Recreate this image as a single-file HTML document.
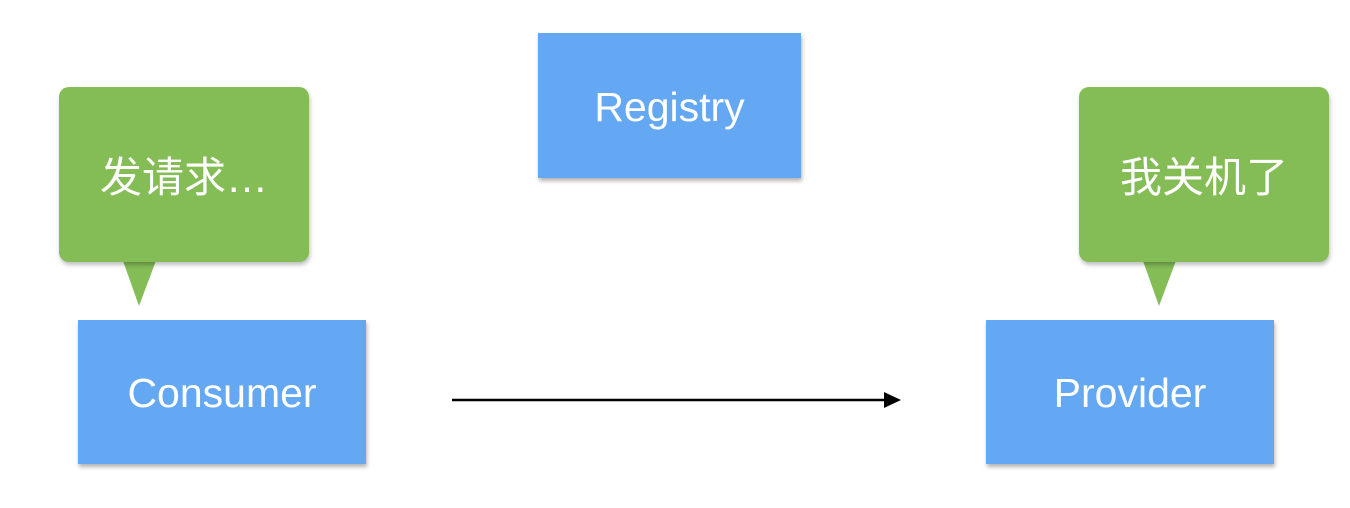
<!DOCTYPE html>
<html><head><meta charset="utf-8"><style>
body{margin:0;width:1350px;height:508px;background:#fff;position:relative;overflow:hidden;font-family:"Liberation Sans","Noto Sans CJK SC",sans-serif;}
.b{position:absolute;background:#64a8f4;color:#fff;display:flex;align-items:center;justify-content:center;font-size:41px;box-shadow:1px 3px 4px rgba(0,0,0,.3);padding-top:3px;box-sizing:border-box;}
.g{position:absolute;background:#84bc56;border-radius:10px;color:#fff;display:flex;align-items:center;justify-content:center;font-size:42px;box-shadow:1px 3px 4px rgba(0,0,0,.25);}
</style></head><body>
<svg width="1350" height="508" style="position:absolute;left:0;top:0">
<polygon points="122,258 157,258 139,306" fill="#84bc56"/>
<polygon points="1142,258 1177,258 1159,306" fill="#84bc56"/>
<line x1="452" y1="400" x2="888" y2="400" stroke="#000" stroke-width="2.5"/>
<polygon points="884,392 901,400 884,408" fill="#000"/>
</svg>
<div class="g" style="left:59px;top:87px;width:250px;height:175px;">发请求…</div>
<div class="g" style="left:1079px;top:87px;width:250px;height:175px;">我关机了</div>
<div class="b" style="left:538px;top:33px;width:263px;height:145px;">Registry</div>
<div class="b" style="left:78px;top:320px;width:288px;height:144px;">Consumer</div>
<div class="b" style="left:986px;top:320px;width:288px;height:144px;">Provider</div>
</body></html>
